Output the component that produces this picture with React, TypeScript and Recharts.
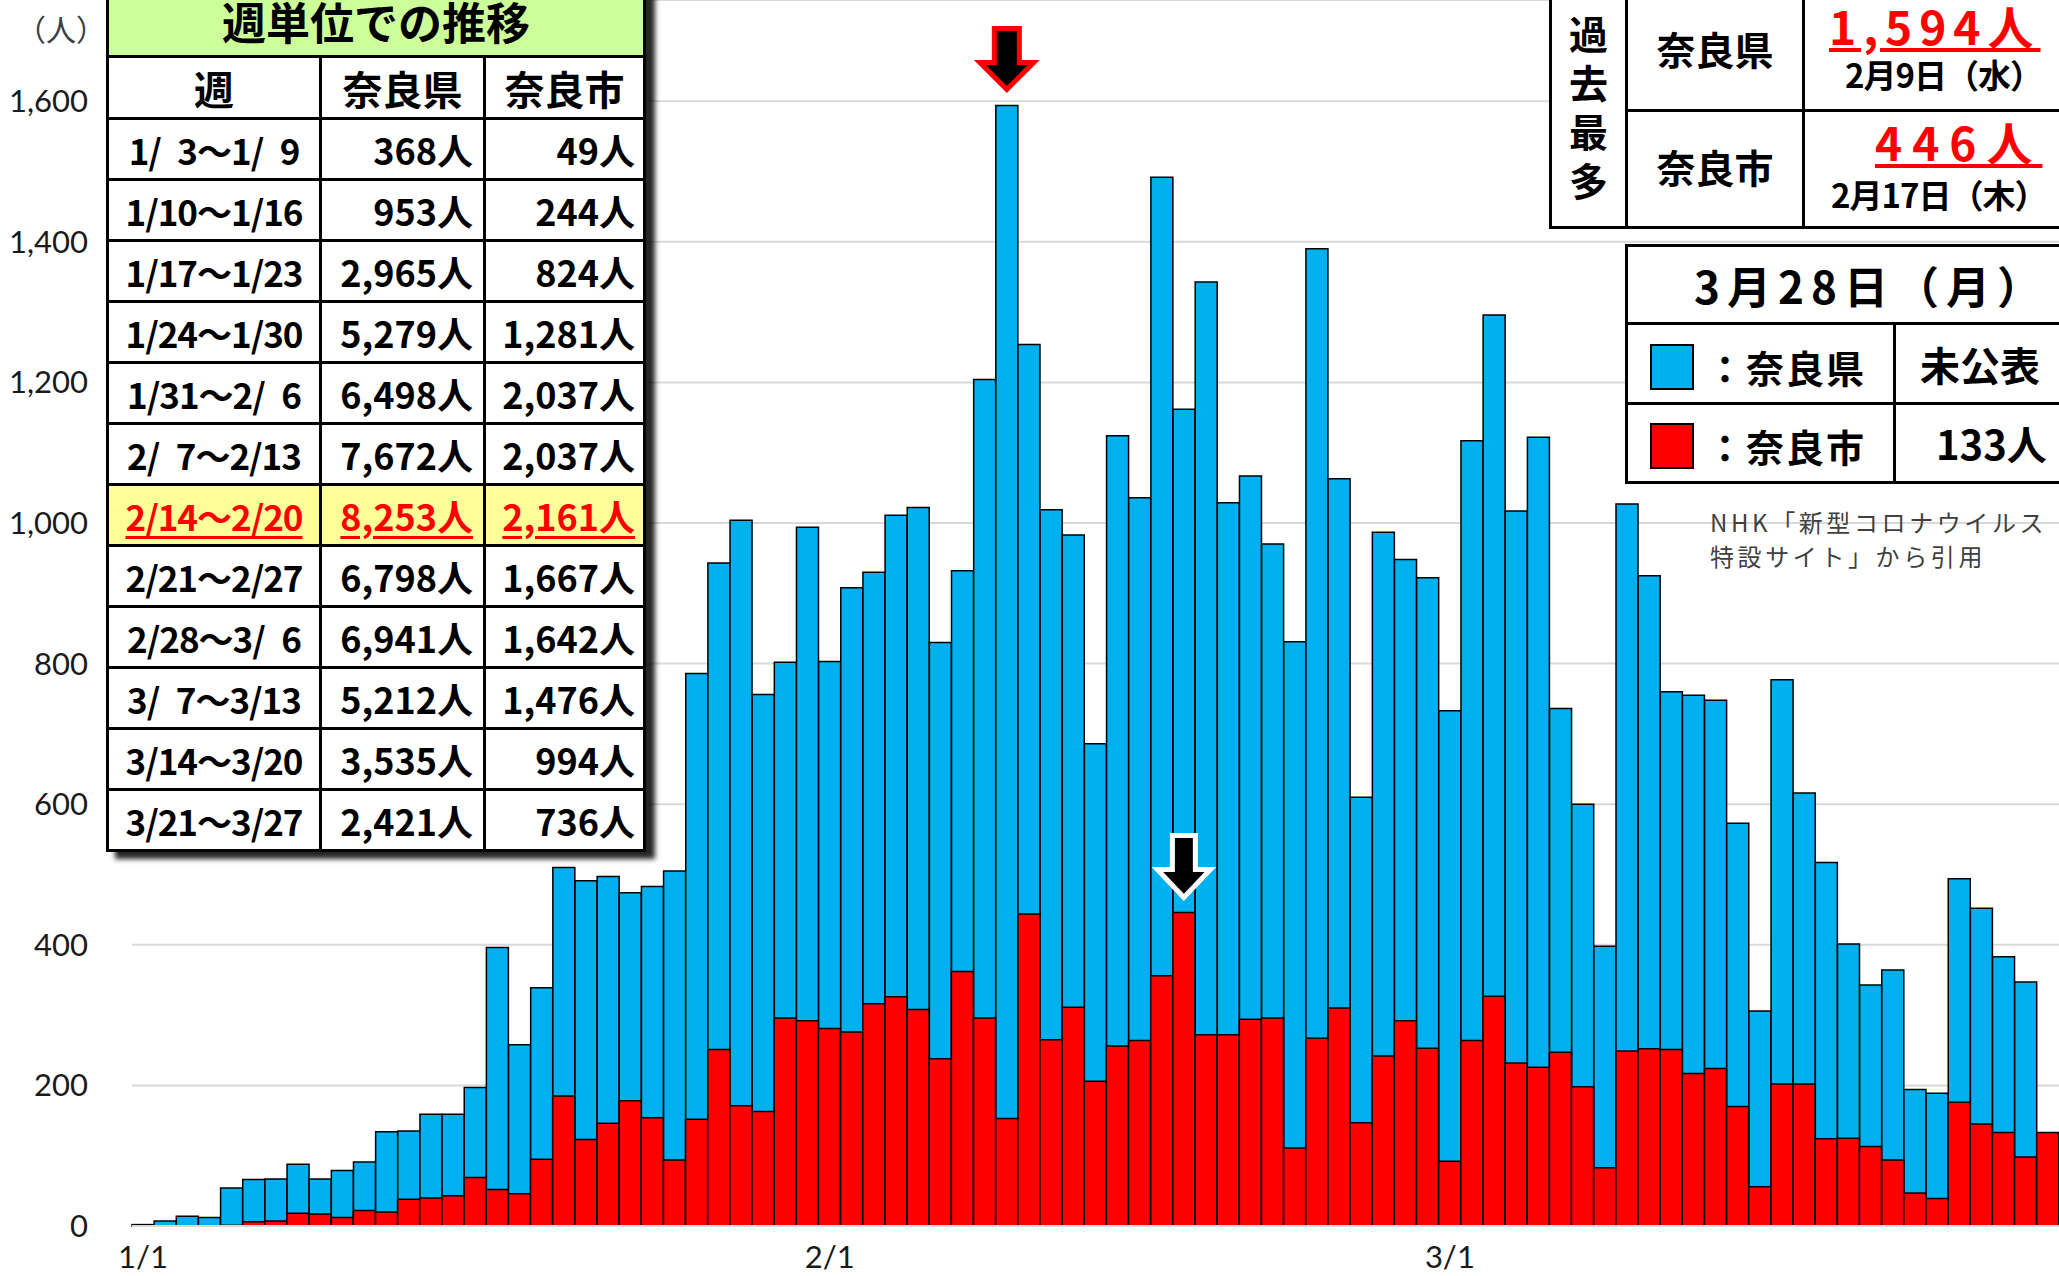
import React from 'react';
import { BarChart, Bar, XAxis, YAxis, CartesianGrid, LabelList } from 'recharts';

// days shown per month (Jan, Feb, Mar up to the 28th)
const monthDays = [31, 28, 28];

// daily new cases, Nara prefecture (3/28 not yet published)
const prefDaily = [
  2, 7, 14, 12, 54, 66, 67, 88, 67, 79, 91, 134, 135, 159, 159, 197,
  396, 258, 339, 510, 491, 497, 474, 483, 505, 786, 943, 1004, 756, 802,
  994, 803, 908, 930, 1011, 1022, 830, 932, 1204, 1594, 1254, 1019, 983, 686,
  1124, 1036, 1492, 1162, 1343, 1029, 1067, 970, 831, 1390, 1063, 610, 987, 948,
  922, 733, 1117, 1296, 1017, 1122, 736, 600, 398, 1027, 925, 760, 755, 748,
  573, 306, 777, 616, 517, 401, 343, 364, 194, 189, 494, 452, 383, 347, null,
];

// daily new cases, Nara city
const cityDaily = [
  0, 0, 0, 0, 1, 6, 7, 18, 17, 12, 22, 20, 38, 40, 43, 69,
  52, 46, 95, 185, 123, 146, 178, 154, 94, 152, 251, 171, 163, 296,
  292, 281, 276, 316, 326, 308, 238, 362, 296, 153, 444, 265, 311, 206,
  256, 264, 356, 446, 272, 272, 294, 296, 111, 267, 310, 147, 242, 292,
  253, 92, 264, 327, 232, 226, 247, 198, 83, 249, 252, 251, 217, 224,
  170, 56, 202, 202, 124, 125, 113, 94, 47, 39, 176, 145, 133, 98, 133,
];

const xTicks = ['1/1', '2/1', '3/1'];
const yTicks = [0, 200, 400, 600, 800, 1000, 1200, 1400, 1600];

// weekly table (en spaces pad single digits)
const weekLabels = [
  '1/\u20023～1/\u20029', '1/10～1/16', '1/17～1/23', '1/24～1/30', '1/31～2/\u20026', '2/\u20027～2/13',
  '2/14～2/20', '2/21～2/27', '2/28～3/\u20026', '3/\u20027～3/13', '3/14～3/20', '3/21～3/27',
];
const weekPref = ['368人', '953人', '2,965人', '5,279人', '6,498人', '7,672人', '8,253人', '6,798人', '6,941人', '5,212人', '3,535人', '2,421人'];
const weekCity = ['49人', '244人', '824人', '1,281人', '2,037人', '2,037人', '2,161人', '1,667人', '1,642人', '1,476人', '994人', '736人'];
const highlightWeek = 6;

const dates: string[] = [];
monthDays.forEach((n, m) => {
  for (let d = 1; d <= n; d++) dates.push(`${m + 1}/${d}`);
});
const data = dates.map((date, i) => ({ date, pref: prefDaily[i], city: cityDaily[i] }));

const maxPref = Math.max(...prefDaily.filter((v) => v != null) as number[]);
const maxCity = Math.max(...cityDaily);

const BLUE = '#00B0F0';
const RED = '#FF0000';
const JP = '"Noto Sans CJK JP", "Noto Sans", sans-serif';
const TICK_FONT = 'Lato, "Noto Sans", sans-serif';

const arrowPoints = (cx: number, tip: number, headHw: number, shaftHw: number, headLen: number, len: number) =>
  [
    [cx, tip], [cx - headHw, tip - headLen], [cx - shaftHw, tip - headLen], [cx - shaftHw, tip - len],
    [cx + shaftHw, tip - len], [cx + shaftHw, tip - headLen], [cx + headHw, tip - headLen],
  ].map((p) => p.join(',')).join(' ');

const boxOf = (p: any) => p.viewBox ?? p;

const prefArrow = (p: any) => {
  if (p.value !== maxPref) return null;
  const b = boxOf(p);
  const cx = b.x + b.width / 2;
  return <polygon points={arrowPoints(cx, b.y - 16, 27, 12.5, 27, 61)} fill="#000" stroke={RED} strokeWidth={5} />;
};

const cityArrow = (p: any) => {
  if (p.value !== maxCity) return null;
  const b = boxOf(p);
  const cx = b.x + b.width / 2;
  return <polygon points={arrowPoints(cx, b.y - 15, 26.5, 11.5, 28, 62)} fill="#000" stroke="#fff" strokeWidth={5} />;
};

const cell: React.CSSProperties = { border: '3px solid #000', padding: 0 };

export default function App() {
  return (
    <div style={{ position: 'absolute', left: 0, top: 0, width: 2059, height: 1276, overflow: 'hidden', background: '#fff' }}>
      <BarChart width={2059} height={1276} data={data} margin={{ top: 0, right: 0, bottom: 0, left: 0 }} barCategoryGap={0} barGap="-100%">
        <CartesianGrid vertical={false} stroke="#d9d9d9" strokeWidth={2} />
        <XAxis
          dataKey="date"
          interval={0}
          height={50}
          tickLine={false}
          tickSize={6}
          tickMargin={14}
          axisLine={{ stroke: '#d9d9d9', strokeWidth: 2 }}
          tickFormatter={(v: string) => (xTicks.includes(v) ? v : '')}
          tick={{ fontSize: 31, fill: '#1a1a1a', fontFamily: TICK_FONT }}
        />
        <YAxis
          domain={[0, 1744]}
          ticks={yTicks}
          width={132}
          axisLine={false}
          tickLine={false}
          tickSize={6}
          tickMargin={38}
          tickFormatter={(v: number) => v.toLocaleString('en-US')}
          tick={{ fontSize: 31, fill: '#1a1a1a', fontFamily: TICK_FONT }}
        />
        <Bar dataKey="pref" fill={BLUE} stroke="#000" strokeWidth={1.5} isAnimationActive={false}>
          <LabelList dataKey="pref" content={prefArrow} />
        </Bar>
        <Bar dataKey="city" fill={RED} stroke="#000" strokeWidth={1.5} isAnimationActive={false}>
          <LabelList dataKey="city" content={cityArrow} />
        </Bar>
      </BarChart>

      {/* unit label */}
      <div style={{ position: 'absolute', left: 16, top: 6, fontFamily: JP, fontSize: 30, color: '#404040' }}>（人）</div>

      {/* weekly table */}
      <table
        style={{
          position: 'absolute', left: 106, top: -11, width: 537, borderCollapse: 'collapse', background: '#fff',
          boxShadow: '9px 7px 5px rgba(0,0,0,0.85)', fontFamily: JP, fontWeight: 700, color: '#000', tableLayout: 'fixed',
        }}
      >
        <colgroup>
          <col style={{ width: 213 }} />
          <col style={{ width: 164 }} />
          <col style={{ width: 160 }} />
        </colgroup>
        <tbody>
          <tr style={{ height: 66 }}>
            <td colSpan={3} style={{ ...cell, background: '#CCFF99', textAlign: 'center', fontSize: 44, lineHeight: '56px', paddingBottom: 6 }}>週単位での推移</td>
          </tr>
          <tr style={{ height: 62 }}>
            <td style={{ ...cell, textAlign: 'center', fontSize: 40 }}>週</td>
            <td style={{ ...cell, textAlign: 'center', fontSize: 40 }}>奈良県</td>
            <td style={{ ...cell, textAlign: 'center', fontSize: 40 }}>奈良市</td>
          </tr>
          {weekLabels.map((w, i) => {
            const hl = i === highlightWeek;
            const st: React.CSSProperties = hl
              ? { background: '#FFFF99', color: RED, textDecoration: 'underline', textUnderlineOffset: 5 }
              : {};
            return (
              <tr key={w} style={{ height: 61 }}>
                <td style={{ ...cell, ...st, textAlign: 'center', fontSize: 35, letterSpacing: -1, whiteSpace: 'pre' }}>{w}</td>
                <td style={{ ...cell, ...st, textAlign: 'right', fontSize: 36, paddingRight: 10 }}>{weekPref[i]}</td>
                <td style={{ ...cell, ...st, textAlign: 'right', fontSize: 36, paddingRight: 8 }}>{weekCity[i]}</td>
              </tr>
            );
          })}
        </tbody>
      </table>

      {/* record box */}
      <table
        style={{
          position: 'absolute', left: 1549, top: -3, width: 560, borderCollapse: 'collapse', background: '#fff',
          fontFamily: JP, fontWeight: 700, color: '#000', tableLayout: 'fixed',
        }}
      >
        <colgroup>
          <col style={{ width: 76 }} />
          <col style={{ width: 177 }} />
          <col style={{ width: 307 }} />
        </colgroup>
        <tbody>
          <tr style={{ height: 112 }}>
            <td rowSpan={2} style={{ ...cell, textAlign: 'center', fontSize: 39, lineHeight: '49px', paddingBottom: 14 }}>過<br />去<br />最<br />多</td>
            <td style={{ ...cell, textAlign: 'center', fontSize: 39, paddingBottom: 14 }}>奈良県</td>
            <td style={{ ...cell, verticalAlign: 'top' }}>
              <div style={{ color: RED, fontSize: 46, lineHeight: '50px', letterSpacing: 7, textDecoration: 'underline', textUnderlineOffset: 3, paddingLeft: 24 }}>1,594人</div>
              <div style={{ fontSize: 33, lineHeight: '40px', marginTop: 4, paddingLeft: 40, letterSpacing: -1 }}>2月9日（水）</div>
            </td>
          </tr>
          <tr style={{ height: 117 }}>
            <td style={{ ...cell, textAlign: 'center', fontSize: 39, paddingBottom: 6 }}>奈良市</td>
            <td style={{ ...cell, verticalAlign: 'top', paddingTop: 4 }}>
              <div style={{ color: RED, fontSize: 46, lineHeight: '50px', letterSpacing: 10, textDecoration: 'underline', textUnderlineOffset: 3, paddingLeft: 70 }}>446人</div>
              <div style={{ fontSize: 33, lineHeight: '40px', marginTop: 8, paddingLeft: 26, letterSpacing: -1 }}>2月17日（木）</div>
            </td>
          </tr>
        </tbody>
      </table>

      {/* legend box */}
      <table
        style={{
          position: 'absolute', left: 1625, top: 244, width: 460, borderCollapse: 'collapse', background: '#fff',
          fontFamily: JP, fontWeight: 700, color: '#000', tableLayout: 'fixed',
        }}
      >
        <colgroup>
          <col style={{ width: 268 }} />
          <col style={{ width: 192 }} />
        </colgroup>
        <tbody>
          <tr style={{ height: 78 }}>
            <td colSpan={2} style={{ ...cell, fontSize: 44, paddingLeft: 66, letterSpacing: 7, whiteSpace: 'nowrap' }}>3月28日（月）</td>
          </tr>
          <tr style={{ height: 80 }}>
            <td style={{ ...cell, fontSize: 38, letterSpacing: 2, whiteSpace: 'nowrap' }}>
              <span style={{ display: 'inline-block', width: 40, height: 42, background: BLUE, border: '2px solid #000', verticalAlign: 'middle', marginLeft: 22, marginRight: 12 }} />
              <span style={{ verticalAlign: 'middle' }}>：奈良県</span>
            </td>
            <td style={{ ...cell, fontSize: 40, paddingLeft: 24 }}>未公表</td>
          </tr>
          <tr style={{ height: 79 }}>
            <td style={{ ...cell, fontSize: 38, letterSpacing: 2, whiteSpace: 'nowrap' }}>
              <span style={{ display: 'inline-block', width: 40, height: 42, background: RED, border: '2px solid #000', verticalAlign: 'middle', marginLeft: 22, marginRight: 12 }} />
              <span style={{ verticalAlign: 'middle' }}>：奈良市</span>
            </td>
            <td style={{ ...cell, fontSize: 40, paddingLeft: 40 }}>133人</td>
          </tr>
        </tbody>
      </table>

      {/* source note */}
      <div style={{ position: 'absolute', left: 1710, top: 505, fontFamily: JP, fontSize: 24, lineHeight: '34px', letterSpacing: 3.6, color: '#404040', whiteSpace: 'pre' }}>
        {'NHK「新型コロナウイルス\n特設サイト」から引用'}
      </div>
    </div>
  );
}
